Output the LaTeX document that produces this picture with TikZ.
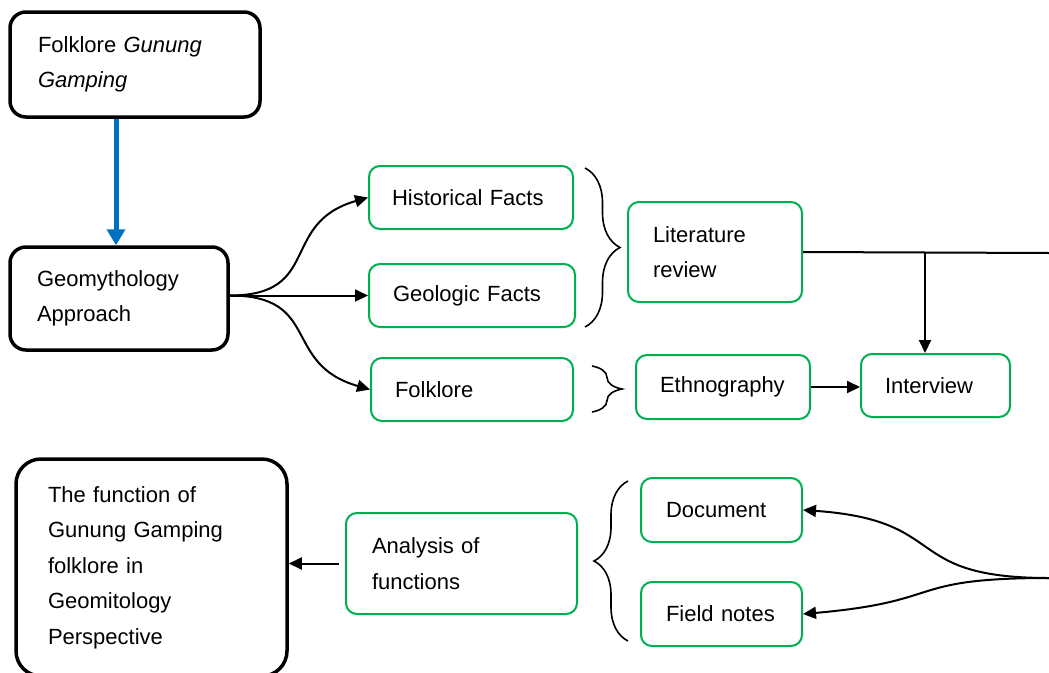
\documentclass[tikz,border=0pt]{standalone}
\usepackage{fontspec}
\setmainfont{Liberation Sans}
\usepackage{tikz}
\usetikzlibrary{arrows.meta,decorations.pathreplacing}
\definecolor{factgreen}{RGB}{0,176,80}
\definecolor{arrowblue}{RGB}{0,112,192}
\newcommand{\boxfont}{\fontsize{22pt}{35.5pt}\selectfont}
\tikzset{
mainbox/.style={draw, line width=3.5pt, rounded corners=16pt, align=left, inner xsep=27pt},
factbox/.style={draw=factgreen, line width=2pt, rounded corners=11pt, align=left, inner xsep=24pt},
link/.style={line width=2pt, -{Triangle[length=13pt,width=12pt]}},
bracket/.style={line width=1.6pt, decorate, decoration={brace, amplitude=#1}}
}
\begin{document}
\begin{tikzpicture}[x=1pt, y=1pt, font=\boxfont]
\useasboundingbox (0,0) rectangle (1049,-672);
\fill[white] (0,0) rectangle (1049,-672);
\node[mainbox, inner xsep=28pt, text width=194pt, minimum height=105pt] (top) at (135,-64.5) {Folklore \textit{Gunung}\\ \textit{Gamping}};
\node[mainbox, text width=164pt, minimum height=103pt] (geo) at (119,-298.5) {Geomythology\\ Approach};
\node[factbox, inner xsep=23pt, text width=158pt, minimum height=63pt] (hist) at (471,-197.5) {Historical Facts};
\node[factbox, text width=158pt, minimum height=63pt] (geol) at (472,-295.5) {Geologic Facts};
\node[factbox, text width=154pt, minimum height=63pt] (folk) at (472,-389.5) {Folklore};
\node[factbox, inner xsep=25pt, text width=124pt, minimum height=100pt] (lit) at (715,-252) {Literature\\ review};
\node[factbox, text width=126pt, minimum height=64pt] (eth) at (723,-387) {Ethnography};
\node[factbox, text width=101pt, minimum height=63pt] (int) at (935.5,-385.5) {Interview};
\node[factbox, inner xsep=26pt, text width=179pt, minimum height=101pt] (ana) at (461.5,-563.5) {Analysis of\\ functions};
\node[factbox, inner xsep=25pt, text width=111pt, minimum height=64pt] (doc) at (721.5,-510) {Document};
\node[factbox, inner xsep=25pt, text width=111pt, minimum height=64pt] (field) at (721.5,-614) {Field notes};
\node[mainbox, rounded corners=25pt, inner xsep=32pt, text width=207pt, minimum height=217pt] (res) at (151.5,-567.5) {The function of\\ Gunung Gamping\\ folklore in\\ Geomitology\\ Perspective};
\coordinate (rightend) at (1049,-253);
\coordinate (junction) at (925,-253);
\coordinate (fork) at (1049,-578);
\coordinate (spread) at (geol.west -| geo.east);
\draw[line width=5pt, arrowblue, -{Triangle[length=16pt,width=18pt]}] ([xshift=-19pt]top.south) -- ([xshift=-19pt]top.south |- geo.north);
\draw[link] (spread) to[out=0, in=196, looseness=1.4] (hist.west);
\draw[link] (spread) -- (geol.west);
\draw[link] (spread) to[out=0, in=164, looseness=1.4] (folk.west);
\draw[bracket=35pt] (585,-168) -- (585,-327);
\draw[bracket=30pt] (592,-366) -- (592,-412);
\draw[bracket=34pt] (628,-641) -- (628,-481);
\draw[line width=2pt] (lit.east) -- (rightend);
\draw[link] (junction) -- (junction |- int.north);
\draw[link] (eth.east) -- (eth.east -| int.west);
\draw[link] (fork) to[out=180, in=-4, looseness=1.5] (doc.east);
\draw[link] (fork) to[out=180, in=5, looseness=1.5] (field.east);
\draw[link] ([xshift=-6pt]ana.west) -- (ana.west -| res.east);
\end{tikzpicture}
\end{document}
